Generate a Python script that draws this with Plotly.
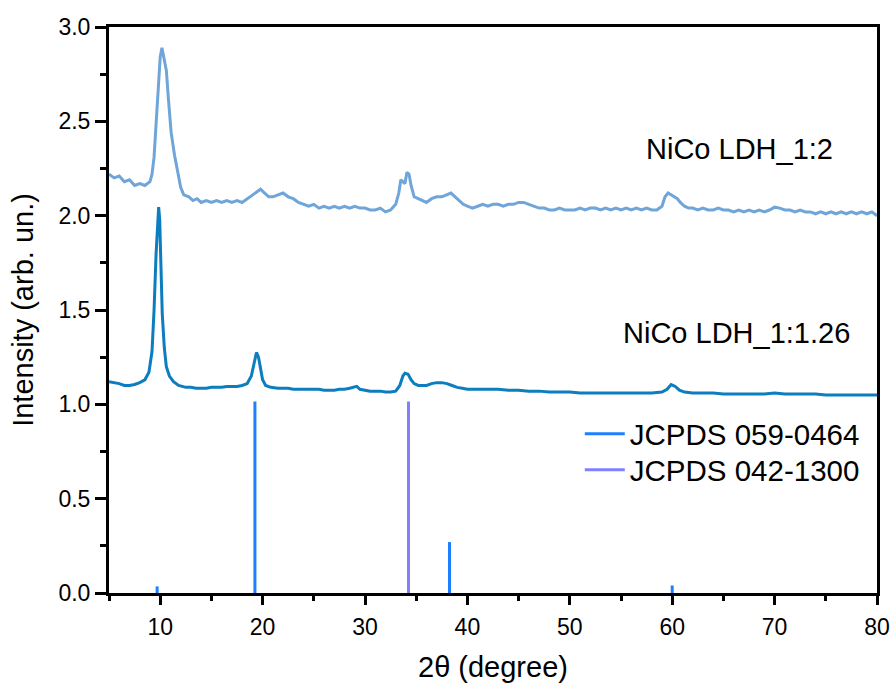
import plotly.graph_objects as go

# ---- data ----
x_12 = [5.0, 5.5, 6.0, 6.5, 7.0, 7.5, 8.0, 8.5, 9.0, 9.2, 9.4, 9.6, 9.8, 10.0, 10.17, 10.4, 10.6, 10.8, 11.07,
        11.4, 11.7, 12.0, 12.3, 12.8, 13.2, 13.6, 14.0, 14.5, 15.0, 15.5, 16.0, 16.5, 17.0,
        17.5, 18.0, 18.5, 19.0, 19.5, 19.8, 20.2, 20.6, 21.0, 21.5, 22.0, 22.5, 23.0, 23.5, 24.0, 24.5, 25.0,
        25.5, 26.0, 26.5, 27.0, 27.5, 28.0, 28.5, 29.0, 29.5, 30.0, 30.5, 31.0, 31.5, 32.0, 32.5, 33.0, 33.3,
        33.5, 33.7, 33.9, 34.1, 34.3, 34.5, 34.8, 35.2, 35.6, 36.0, 36.5, 37.0, 37.5, 38.0, 38.4, 38.8, 39.2,
        39.6, 40.0, 40.5, 41.0, 41.5, 42.0, 42.5, 43.0, 43.5, 44.0, 44.5, 45.0, 45.5, 46.0, 46.5, 47.0, 47.5,
        48.0, 48.5, 49.0, 49.5, 50.0, 50.5, 51.0, 51.5, 52.0, 52.5, 53.0, 53.5, 54.0, 54.5, 55.0, 55.5, 56.0,
        56.5, 57.0, 57.5, 58.0, 58.5, 59.0, 59.3, 59.6, 59.9, 60.2, 60.5, 60.8, 61.2, 61.6, 62.0, 62.5, 63.0,
        63.5, 64.0, 64.5, 65.0, 65.5, 66.0, 66.5, 67.0, 67.5, 68.0, 68.5, 69.0, 69.5, 70.0, 70.5, 71.0, 71.5,
        72.0, 72.5, 73.0, 73.5, 74.0, 74.5, 75.0, 75.5, 76.0, 76.5, 77.0, 77.5, 78.0, 78.5, 79.0, 79.5, 80.0]
y_12 = [2.22, 2.20, 2.21, 2.18, 2.19, 2.16, 2.17, 2.16, 2.18, 2.22, 2.31, 2.48, 2.68, 2.84, 2.89, 2.83, 2.77, 2.62, 2.44,
        2.32, 2.24, 2.15, 2.11, 2.10, 2.08, 2.09, 2.07, 2.08, 2.07, 2.08, 2.07, 2.08, 2.07,
        2.08, 2.07, 2.09, 2.11, 2.13, 2.14, 2.12, 2.10, 2.10, 2.11, 2.12, 2.10, 2.09, 2.07, 2.06, 2.05, 2.06,
        2.04, 2.05, 2.04, 2.05, 2.04, 2.05, 2.04, 2.05, 2.04, 2.04, 2.03, 2.03, 2.04, 2.02, 2.03, 2.06, 2.12,
        2.19, 2.18, 2.17, 2.23, 2.22, 2.16, 2.10, 2.09, 2.08, 2.07, 2.09, 2.10, 2.10, 2.11, 2.12, 2.10, 2.08,
        2.06, 2.05, 2.04, 2.05, 2.06, 2.05, 2.06, 2.06, 2.05, 2.06, 2.06, 2.07, 2.07, 2.06, 2.05, 2.04, 2.04,
        2.03, 2.03, 2.04, 2.03, 2.03, 2.03, 2.04, 2.03, 2.04, 2.04, 2.03, 2.04, 2.03, 2.04, 2.03, 2.04, 2.03,
        2.04, 2.03, 2.04, 2.03, 2.03, 2.05, 2.10, 2.12, 2.11, 2.10, 2.09, 2.07, 2.05, 2.04, 2.04, 2.03, 2.04,
        2.03, 2.03, 2.04, 2.03, 2.03, 2.02, 2.03, 2.02, 2.03, 2.02, 2.03, 2.02, 2.03, 2.045, 2.04, 2.03, 2.03,
        2.02, 2.03, 2.02, 2.02, 2.01, 2.02, 2.01, 2.02, 2.01, 2.02, 2.01, 2.02, 2.01, 2.02, 2.01, 2.02, 2.00]

x_126 = [5.0, 5.5, 6.0, 6.5, 7.0, 7.5, 8.0, 8.5, 8.9, 9.2, 9.4, 9.6, 9.75, 9.85, 9.95, 10.05, 10.2, 10.4, 10.6,
         10.9, 11.3, 11.8, 12.5, 13.0, 13.5, 14.0, 14.5, 15.0, 15.5, 16.0, 16.5, 17.0, 17.5, 18.0, 18.5, 18.9,
         19.15, 19.4, 19.6, 19.8, 20.0, 20.3, 20.8, 21.5, 22.0, 22.5, 23.0, 23.5, 24.0, 24.5, 25.0, 25.5, 26.0,
         26.5, 27.0, 27.5, 28.0, 28.5, 29.0, 29.2, 29.5, 30.0, 30.5, 31.0, 31.5, 32.0, 32.5, 33.0, 33.4, 33.7,
         33.9, 34.2, 34.5, 34.8, 35.2, 35.6, 36.0, 36.5, 37.0, 37.5, 38.0, 38.5, 39.0, 39.5, 40.0, 41.0, 42.0,
         43.0, 44.0, 45.0, 46.0, 47.0, 48.0, 49.0, 50.0, 51.0, 52.0, 53.0, 54.0, 55.0, 56.0, 57.0, 58.0, 59.0,
         59.5, 59.9, 60.3, 60.7, 61.2, 62.0, 63.0, 64.0, 65.0, 66.0, 67.0, 68.0, 69.0, 70.0, 71.0, 72.0, 73.0,
         74.0, 75.0, 76.0, 77.0, 78.0, 79.0, 80.0]
y_126 = [1.12, 1.115, 1.11, 1.10, 1.10, 1.105, 1.115, 1.13, 1.17, 1.28, 1.50, 1.80, 2.00, 2.045, 1.98, 1.75, 1.48, 1.30, 1.20,
         1.15, 1.12, 1.10, 1.09, 1.09, 1.085, 1.085, 1.085, 1.09, 1.09, 1.09, 1.095, 1.095, 1.095, 1.10, 1.11, 1.15,
         1.22, 1.275, 1.25, 1.18, 1.13, 1.10, 1.09, 1.085, 1.085, 1.085, 1.08, 1.08, 1.08, 1.08, 1.08, 1.08, 1.075,
         1.075, 1.075, 1.08, 1.08, 1.085, 1.09, 1.095, 1.08, 1.075, 1.07, 1.07, 1.07, 1.065, 1.065, 1.07, 1.10, 1.15,
         1.165, 1.16, 1.13, 1.11, 1.10, 1.10, 1.10, 1.11, 1.115, 1.115, 1.11, 1.10, 1.09, 1.085, 1.08, 1.08, 1.08,
         1.08, 1.075, 1.075, 1.07, 1.07, 1.065, 1.065, 1.065, 1.06, 1.06, 1.06, 1.06, 1.06, 1.06, 1.06, 1.06, 1.065,
         1.08, 1.105, 1.095, 1.075, 1.065, 1.06, 1.06, 1.06, 1.055, 1.055, 1.055, 1.055, 1.055, 1.06, 1.055, 1.055, 1.055,
         1.055, 1.05, 1.05, 1.05, 1.05, 1.05, 1.05]

ref_059_x = [9.7, 19.25, 38.25, 60.0]
ref_059_h = [0.035, 1.015, 0.27, 0.04]
ref_042_x = [34.25]
ref_042_h = [1.015]

labels = ["NiCo LDH_1:2", "NiCo LDH_1:1.26", "JCPDS 059-0464", "JCPDS 042-1300"]
x_title = "2θ (degree)"
y_title = "Intensity (arb. un.)"
y_ticks = [0.0, 0.5, 1.0, 1.5, 2.0, 2.5, 3.0]
x_ticks = [10, 20, 30, 40, 50, 60, 70, 80]
x_range = [5, 80]

FONT = "Liberation Sans, Arial, sans-serif"

# layout geometry (px): full plotting region 27..611, y axis domain starts 18 px above its bottom
REG_TOP, REG_BOT = 27, 611
REG_H = REG_BOT - REG_TOP


def py_to_paper(py):
    return (REG_BOT - py) / REG_H


def sticks(xs, hs):
    sx, sy = [], []
    for xv, hv in zip(xs, hs):
        sx += [xv, xv, None]
        sy += [0, hv, None]
    return sx, sy


fig = go.Figure()
fig.add_trace(go.Scatter(x=x_12, y=y_12, mode="lines", showlegend=False,
                         line=dict(color="rgb(111,165,216)", width=3)))
fig.add_trace(go.Scatter(x=x_126, y=y_126, mode="lines", showlegend=False,
                         line=dict(color="rgb(12,125,190)", width=3)))
sx, sy = sticks(ref_059_x, ref_059_h)
fig.add_trace(go.Scatter(x=sx, y=sy, mode="lines", name=labels[2], legend="legend", xaxis="x2",
                         line=dict(color="rgb(30,128,255)", width=3)))
sx, sy = sticks(ref_042_x, ref_042_h)
fig.add_trace(go.Scatter(x=sx, y=sy, mode="lines", name=labels[3], legend="legend2", xaxis="x2",
                         line=dict(color="rgb(128,128,255)", width=3)))

fig.add_annotation(x=75.85, y=2.353, text=labels[0], showarrow=False, xanchor="right", yanchor="middle",
                   font=dict(family=FONT, size=29, color="black"))
fig.add_annotation(x=77.6, y=1.378, text=labels[1], showarrow=False, xanchor="right", yanchor="middle",
                   font=dict(family=FONT, size=29, color="black"))
# x axis title
fig.add_annotation(xref="paper", yref="paper", x=0.5, y=py_to_paper(667), text=x_title, showarrow=False,
                   xanchor="center", yanchor="middle", font=dict(family=FONT, size=29, color="black"))

leg_common = dict(xanchor="left", yanchor="middle",
                  font=dict(family=FONT, size=29.5, color="black"),
                  bgcolor="rgba(0,0,0,0)", itemwidth=40)
fig.update_layout(
    width=892, height=684,
    margin=dict(l=109, r=15, t=REG_TOP, b=684 - REG_BOT),
    paper_bgcolor="white", plot_bgcolor="white",
    font=dict(family=FONT, color="black"),
    legend=dict(x=0.613, y=py_to_paper(434), **leg_common),
    legend2=dict(x=0.613, y=py_to_paper(470), **leg_common),
    xaxis=dict(
        range=x_range, tickvals=x_ticks, ticks="outside", ticklen=9, tickwidth=3, tickcolor="black",
        showline=True, linewidth=3, linecolor="black", mirror=True, showgrid=False, zeroline=False,
        showticklabels=False, automargin=False, anchor="y",
        minor=dict(ticks="outside", ticklen=5, tickwidth=3, tickcolor="black", dtick=5, tick0=5, showgrid=False),
    ),
    # label-carrying axis: same scale, placed at the bottom of the full region
    xaxis2=dict(
        range=x_range, tickvals=x_ticks, overlaying="x", anchor="free", position=0, side="bottom",
        ticks="", showline=False, showgrid=False, zeroline=False, automargin=False,
        tickfont=dict(family=FONT, size=23, color="black"),
    ),
    yaxis=dict(
        domain=[18 / REG_H, 1],
        range=[0, 3], tickvals=y_ticks, tickformat=".1f", ticks="outside", ticklen=11, tickwidth=3,
        tickcolor="black", showline=True, linewidth=3, linecolor="black", mirror=True, showgrid=False,
        zeroline=False, tickfont=dict(family=FONT, size=23, color="black"), automargin=False,
        minor=dict(ticks="outside", ticklen=6, tickwidth=3, tickcolor="black", dtick=0.25, tick0=0,
                   showgrid=False),
        title=dict(text=y_title, font=dict(family=FONT, size=29, color="black"), standoff=17),
    ),
)

fig.write_html("out.html")
